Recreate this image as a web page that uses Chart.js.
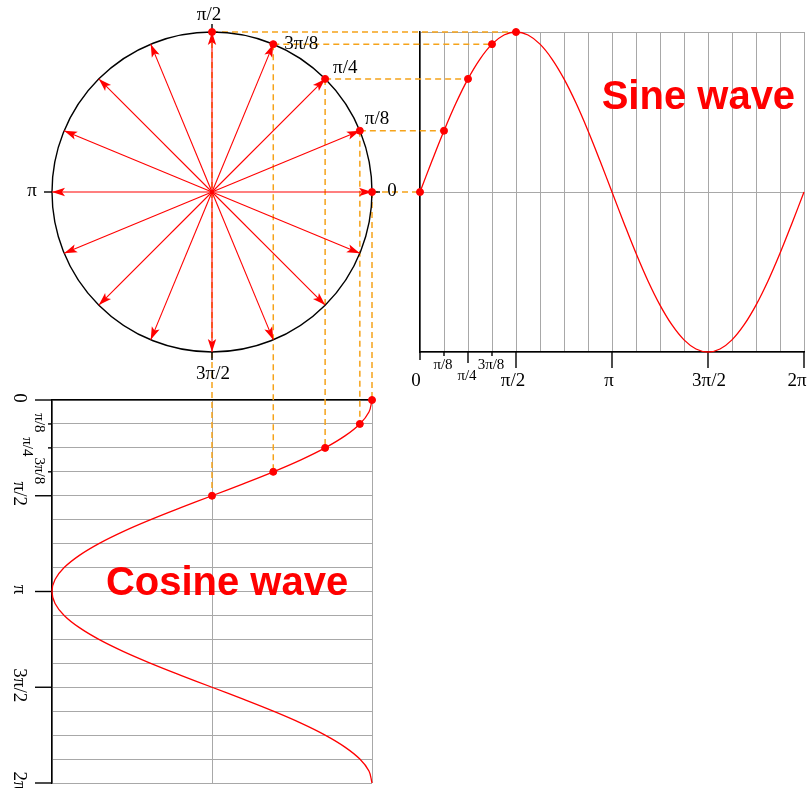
<!DOCTYPE html>
<html lang="en">
<head>
<meta charset="UTF-8">
<title>Sine and cosine waves</title>
<style>
    body { margin: 0; background: #fff; }
    .wrap { position: relative; width: 811px; height: 788px; }
    .wrap canvas { position: absolute; left: 0; top: 0; }
</style>
</head>
<body>
<div class="wrap">
    <canvas id="sineChart" width="811" height="788"></canvas>
    <canvas id="cosChart" width="811" height="788"></canvas>
    <canvas id="circleChart" width="811" height="788"></canvas>
</div>
<script src="https://cdn.jsdelivr.net/npm/chart.js@4.4.0/dist/chart.umd.min.js"></script>
<script>
// arrows of the phasor circle, one every pi/8
const arrowCos = [1, 0.924, 0.707, 0.383, 0, -0.383, -0.707, -0.924, -1, -0.924, -0.707, -0.383, 0, 0.383, 0.707, 0.924];
const arrowSin = [0, 0.383, 0.707, 0.924, 1, 0.924, 0.707, 0.383, 0, -0.383, -0.707, -0.924, -1, -0.924, -0.707, -0.383];

// marked points 0 .. pi/2 (steps are eighths of pi)
const markSteps = [0, 1, 2, 3, 4];
const markLabels = ['0', 'π/8', 'π/4', '3π/8', 'π/2'];
const markCos = [1, 0.924, 0.707, 0.383, 0];
const markSin = [0, 0.383, 0.707, 0.924, 1];

// wave samples every pi/16
const waveSteps = [0, 0.5, 1, 1.5, 2, 2.5, 3, 3.5, 4, 4.5, 5, 5.5, 6, 6.5, 7, 7.5, 8,
    8.5, 9, 9.5, 10, 10.5, 11, 11.5, 12, 12.5, 13, 13.5, 14, 14.5, 15, 15.5, 16];
const sineValues = [0, 0.195, 0.383, 0.556, 0.707, 0.831, 0.924, 0.981, 1, 0.981, 0.924, 0.831, 0.707, 0.556, 0.383, 0.195, 0,
    -0.195, -0.383, -0.556, -0.707, -0.831, -0.924, -0.981, -1, -0.981, -0.924, -0.831, -0.707, -0.556, -0.383, -0.195, 0];
const cosineValues = [1, 0.981, 0.924, 0.831, 0.707, 0.556, 0.383, 0.195, 0, -0.195, -0.383, -0.556, -0.707, -0.831, -0.924, -0.981, -1,
    -0.981, -0.924, -0.831, -0.707, -0.556, -0.383, -0.195, 0, 0.195, 0.383, 0.556, 0.707, 0.831, 0.924, 0.981, 1];

// axis labels
const majorSteps = [0, 4, 8, 12, 16];
const majorLabels = ['0', 'π/2', 'π', '3π/2', '2π'];
const minorSteps = [1, 2, 3];
const minorLabels = ['π/8', 'π/4', '3π/8'];
const compassLabels = ['0', 'π/2', 'π', '3π/2'];

const RED = '#ff0000';
const ORANGE = '#f5a31a';
const GRID = '#a8a8a8';
const SERIF = '"Liberation Serif", "DejaVu Serif", serif';
const SANS = '"Liberation Sans", Arial, sans-serif';

const baseOptions = {
    responsive: false,
    animation: false,
    devicePixelRatio: 1,
    events: [],
    plugins: { legend: { display: false }, tooltip: { enabled: false } }
};

function seg(ctx, x1, y1, x2, y2) {
    ctx.beginPath();
    ctx.moveTo(x1, y1);
    ctx.lineTo(x2, y2);
    ctx.stroke();
}

function dashed(ctx, x1, y1, x2, y2) {
    ctx.save();
    ctx.strokeStyle = ORANGE;
    ctx.lineWidth = 1.5;
    ctx.setLineDash([6, 4]);
    seg(ctx, x1, y1, x2, y2);
    ctx.restore();
}

function text(ctx, str, x, y, font, align, rot) {
    ctx.save();
    ctx.font = font;
    ctx.fillStyle = '#000';
    ctx.textAlign = align || 'center';
    ctx.textBaseline = 'middle';
    ctx.translate(x, y);
    if (rot) ctx.rotate(rot);
    ctx.fillText(str, 0, 0);
    ctx.restore();
}

// ---------- circle ----------
const circlePlugin = {
    id: 'circleDeco',
    beforeDatasetsDraw(chart) {
        const ctx = chart.ctx, x = chart.scales.x, y = chart.scales.y;
        const cx = x.getPixelForValue(0), cy = y.getPixelForValue(0);
        const r = x.getPixelForValue(1) - cx;
        ctx.save();
        ctx.strokeStyle = '#000';
        ctx.lineWidth = 1.4;
        ctx.beginPath();
        ctx.arc(cx, cy, r, 0, Math.PI * 2);
        ctx.stroke();
        // small ticks at 0, pi/2, pi, 3pi/2
        [0, 4, 8, 12].forEach(k => {
            const px = x.getPixelForValue(arrowCos[k]), py = y.getPixelForValue(arrowSin[k]);
            const ux = arrowCos[k], uy = -arrowSin[k];
            seg(ctx, px, py, px + ux * 8, py + uy * 8);
        });
        ctx.restore();
    },
    afterDatasetDraw(chart, args) {
        if (args.index === 0) return;
        const pts = args.meta.data;
        const ctx = chart.ctx;
        const x0 = pts[0].x, y0 = pts[0].y, x1 = pts[1].x, y1 = pts[1].y;
        const len = Math.hypot(x1 - x0, y1 - y0);
        const ux = (x1 - x0) / len, uy = (y1 - y0) / len;
        const nx = -uy, ny = ux;
        const L = 13, W = 4.2, N = 3;
        ctx.save();
        ctx.fillStyle = RED;
        ctx.beginPath();
        ctx.moveTo(x1, y1);
        ctx.lineTo(x1 - ux * L + nx * W, y1 - uy * L + ny * W);
        ctx.lineTo(x1 - ux * (L - N), y1 - uy * (L - N));
        ctx.lineTo(x1 - ux * L - nx * W, y1 - uy * L - ny * W);
        ctx.closePath();
        ctx.fill();
        ctx.restore();
    },
    afterDraw(chart) {
        const ctx = chart.ctx, x = chart.scales.x, y = chart.scales.y;
        const f = '19px ' + SERIF;
        const offs = [[20, -1], [-3, -17], [-20, -1], [1, 22]];
        [0, 4, 8, 12].forEach((k, i) => {
            text(ctx, compassLabels[i], x.getPixelForValue(arrowCos[k]) + offs[i][0],
                y.getPixelForValue(arrowSin[k]) + offs[i][1], f);
        });
        const side = [[5, -12], [8, -11], [11, 0]];
        [1, 2, 3].forEach((k, i) => {
            text(ctx, markLabels[k], x.getPixelForValue(markCos[k]) + side[i][0],
                y.getPixelForValue(markSin[k]) + side[i][1], f, 'left');
        });
    }
};

const circleChart = new Chart(document.getElementById('circleChart'), {
    type: 'scatter',
    data: {
        datasets: [
            {
                data: markSteps.map((s, i) => ({ x: markCos[i], y: markSin[i] })),
                pointRadius: 3.5, backgroundColor: RED, borderColor: RED, clip: false
            },
            ...arrowCos.map((c, i) => ({
                data: [{ x: 0, y: 0 }, { x: c, y: arrowSin[i] }],
                showLine: true, borderColor: RED, borderWidth: 1.1, pointRadius: 0, clip: false
            }))
        ]
    },
    options: {
        ...baseOptions,
        layout: { padding: { left: 52, right: 439, top: 32, bottom: 436 } },
        scales: {
            x: { type: 'linear', display: false, min: -1, max: 1 },
            y: { type: 'linear', display: false, min: -1, max: 1 }
        }
    },
    plugins: [circlePlugin]
});

// ---------- sine wave ----------
const sinePlugin = {
    id: 'sineDeco',
    beforeDatasetsDraw(chart) {
        const ctx = chart.ctx, x = chart.scales.x, y = chart.scales.y;
        const cX = circleChart.scales.x, cY = circleChart.scales.y;
        markSteps.forEach((s, i) => {
            dashed(ctx, cX.getPixelForValue(markCos[i]), cY.getPixelForValue(markSin[i]),
                x.getPixelForValue(s), y.getPixelForValue(markSin[i]));
        });
        // tick marks under the axis
        const base = y.getPixelForValue(-1);
        const shift = [-4, -3, -3, 1, -7];
        ctx.save();
        ctx.strokeStyle = '#000';
        ctx.lineWidth = 1.4;
        majorSteps.forEach((s, i) => {
            const px = x.getPixelForValue(s);
            seg(ctx, px, base, px, base + (s === 0 ? 8 : 16));
            text(ctx, majorLabels[i], px + shift[i], base + 29, '19px ' + SERIF);
        });
        minorSteps.forEach((s, i) => {
            const px = x.getPixelForValue(s);
            const deep = s === 2;
            seg(ctx, px, base, px, base + (deep ? 11 : 4));
            text(ctx, minorLabels[i], px - 1, base + (deep ? 24 : 13), '15px ' + SERIF);
        });
        ctx.restore();
    },
    afterDraw(chart) {
        const ctx = chart.ctx, x = chart.scales.x, y = chart.scales.y;
        ctx.save();
        ctx.font = 'bold 40px ' + SANS;
        ctx.fillStyle = RED;
        ctx.textAlign = 'center';
        ctx.textBaseline = 'middle';
        ctx.fillText('Sine wave', x.getPixelForValue(11.6), y.getPixelForValue(0.59));
        ctx.restore();
    }
};

const sineChart = new Chart(document.getElementById('sineChart'), {
    type: 'scatter',
    data: {
        datasets: [
            {
                data: markSteps.map((s, i) => ({ x: s, y: markSin[i] })),
                pointRadius: 3.5, backgroundColor: RED, borderColor: RED, clip: false
            },
            {
                data: waveSteps.map((s, i) => ({ x: s, y: sineValues[i] })),
                showLine: true, borderColor: RED, borderWidth: 1.3, pointRadius: 0, tension: 0.4, clip: false
            }
        ]
    },
    options: {
        ...baseOptions,
        layout: { padding: { left: 420, right: 7, top: 32, bottom: 436 } },
        scales: {
            x: {
                type: 'linear', min: 0, max: 16,
                ticks: { display: false, stepSize: 1 },
                grid: { color: GRID, lineWidth: 1, drawTicks: false },
                border: { color: '#000', width: 1.5 }
            },
            y: {
                type: 'linear', min: -1, max: 1,
                ticks: { display: false, stepSize: 1 },
                grid: { color: GRID, lineWidth: 1, drawTicks: false },
                border: { color: '#000', width: 1.5 }
            }
        }
    },
    plugins: [sinePlugin]
});

// ---------- cosine wave ----------
const cosPlugin = {
    id: 'cosDeco',
    beforeDatasetsDraw(chart) {
        const ctx = chart.ctx, x = chart.scales.x, y = chart.scales.y;
        const cX = circleChart.scales.x, cY = circleChart.scales.y;
        markSteps.forEach((s, i) => {
            dashed(ctx, cX.getPixelForValue(markCos[i]), cY.getPixelForValue(markSin[i]),
                x.getPixelForValue(markCos[i]), y.getPixelForValue(s));
        });
        const base = x.getPixelForValue(-1);
        ctx.save();
        ctx.strokeStyle = '#000';
        ctx.lineWidth = 1.4;
        majorSteps.forEach((s, i) => {
            const py = y.getPixelForValue(s);
            seg(ctx, base, py, base - 17, py);
            text(ctx, majorLabels[i], base - 33, py - 2, '19px ' + SERIF, 'center', Math.PI / 2);
        });
        minorSteps.forEach((s, i) => {
            const py = y.getPixelForValue(s);
            seg(ctx, base, py, base - 4, py);
            text(ctx, minorLabels[i], base - (s === 2 ? 25 : 13), py - 1, '15px ' + SERIF, 'center', Math.PI / 2);
        });
        ctx.restore();
    },
    afterDraw(chart) {
        const ctx = chart.ctx, x = chart.scales.x, y = chart.scales.y;
        ctx.save();
        ctx.font = 'bold 40px ' + SANS;
        ctx.fillStyle = RED;
        ctx.textAlign = 'center';
        ctx.textBaseline = 'middle';
        ctx.fillText('Cosine wave', x.getPixelForValue(0.094), y.getPixelForValue(7.7));
        ctx.restore();
    }
};

const cosChart = new Chart(document.getElementById('cosChart'), {
    type: 'scatter',
    data: {
        datasets: [
            {
                data: markSteps.map((s, i) => ({ x: markCos[i], y: s })),
                pointRadius: 3.5, backgroundColor: RED, borderColor: RED, clip: false
            },
            {
                data: waveSteps.map((s, i) => ({ x: cosineValues[i], y: s })),
                showLine: true, borderColor: RED, borderWidth: 1.3, pointRadius: 0, tension: 0.4, clip: false
            }
        ]
    },
    options: {
        ...baseOptions,
        layout: { padding: { left: 52, right: 439, top: 400, bottom: 4 } },
        scales: {
            x: {
                type: 'linear', position: 'top', min: -1, max: 1,
                ticks: { display: false, stepSize: 1 },
                grid: { color: GRID, lineWidth: 1, drawTicks: false },
                border: { color: '#000', width: 1.5 }
            },
            y: {
                type: 'linear', reverse: true, min: 0, max: 16,
                ticks: { display: false, stepSize: 1 },
                grid: { color: GRID, lineWidth: 1, drawTicks: false },
                border: { color: '#000', width: 1.5 }
            }
        }
    },
    plugins: [cosPlugin]
});
</script>
</body>
</html>
